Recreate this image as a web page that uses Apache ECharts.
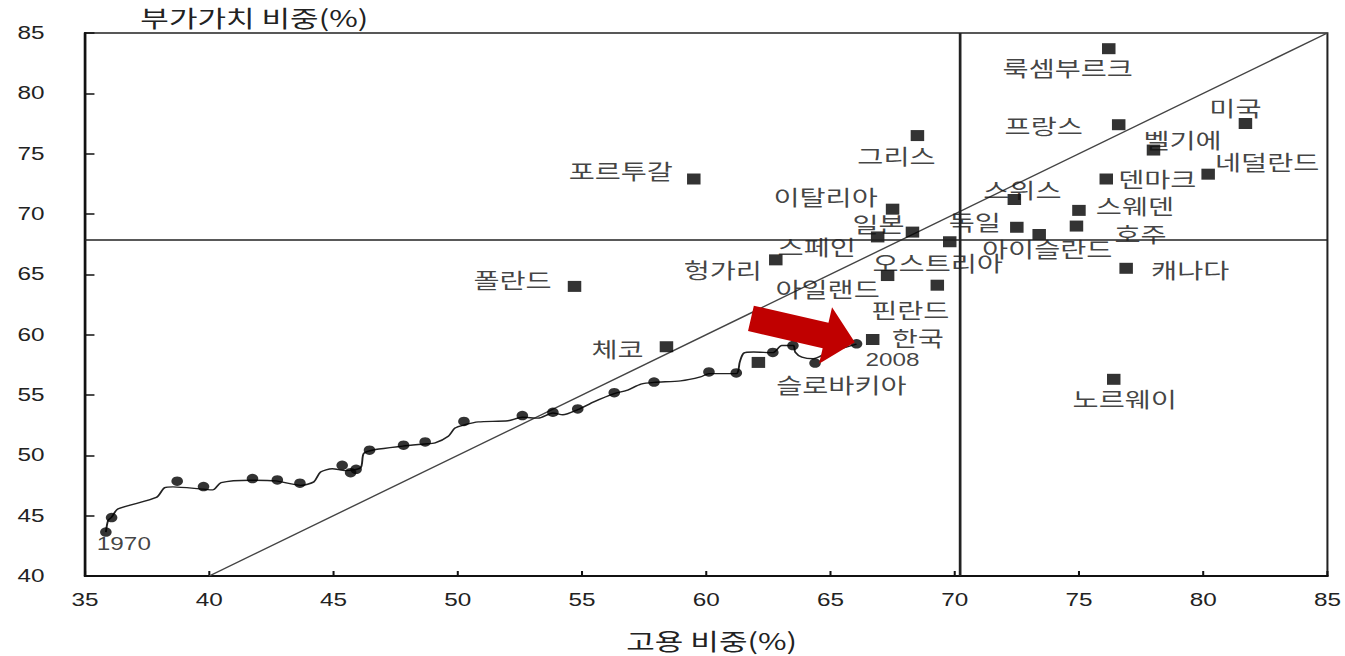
<!DOCTYPE html>
<html>
<head>
<meta charset="utf-8">
<script src="https://cdn.jsdelivr.net/npm/echarts@6/dist/echarts.min.js"></script>
<style>
html,body{margin:0;padding:0;background:#fff;overflow:hidden;}
#stage{width:1345px;height:656px;overflow:hidden;}
#chart{width:996px;height:656px;transform:scaleX(1.35040);transform-origin:0 0;}
</style>
</head>
<body>
<div id="stage"><div id="chart"></div></div>
<script>
// ---------------- data ----------------
const countries = ['룩셈부르크','프랑스','미국','벨기에','네덜란드','덴마크','스위스','스웨덴','독일','호주','아이슬란드','캐나다','노르웨이','그리스','포르투갈','이탈리아','일본','스페인','오스트리아','헝가리','아일랜드','핀란드','폴란드','체코','슬로바키아','한국'];
const employmentShare = [76.2,76.6,81.7,78.0,80.2,76.1,72.4,75.0,72.5,74.9,73.4,76.9,76.4,68.5,59.5,67.5,68.3,66.9,69.8,62.8,67.3,69.3,54.7,58.4,62.1,66.7];
const valueAddedShare = [83.7,77.4,77.5,75.3,73.3,72.9,71.2,70.3,68.9,69.0,68.3,65.5,56.3,76.5,72.9,70.4,68.5,68.1,67.7,66.2,64.9,64.1,64.0,59.0,57.7,59.6];

// Korea trajectory 1970 -> 2008 (dots)
const koreaYearLabels = ['1970','2008'];
const koreaDotEmp = [35.84,36.07,38.71,39.77,41.74,42.74,43.65,45.35,45.69,45.91,46.45,47.82,48.69,50.25,52.60,53.83,54.83,56.30,57.90,60.11,61.21,62.68,63.49,64.38,66.05];
const koreaDotVA  = [43.64,44.84,47.86,47.41,48.07,47.96,47.69,49.17,48.56,48.84,50.43,50.84,51.11,52.81,53.30,53.57,53.85,55.19,56.07,56.91,56.83,58.53,59.10,57.65,59.24];
// traced path of the connecting curve
const koreaPathEmp = [35.84,35.93,36.07,36.33,37.87,38.21,38.54,39.74,40.14,40.48,41.68,42.68,43.68,44.21,44.48,44.95,45.48,46.09,46.22,46.69,47.78,48.65,49.09,49.62,49.89,50.29,50.83,52.03,52.60,53.23,53.83,54.23,54.83,55.50,56.30,56.84,57.37,57.90,58.97,59.77,60.11,61.21,61.35,61.51,61.91,62.68,63.04,63.51,63.58,63.85,64.31,64.85,66.05];
const koreaPathVA  = [43.64,44.60,44.87,45.56,46.51,47.33,47.39,47.20,47.14,47.74,47.94,47.88,47.51,47.80,48.62,48.89,48.73,48.97,50.16,50.48,50.76,50.94,51.03,51.58,52.26,52.54,52.77,52.87,53.16,53.08,53.51,53.36,53.79,54.45,55.11,55.41,55.90,56.05,56.17,56.50,56.77,56.77,57.73,58.47,58.56,58.51,59.10,59.10,58.56,58.14,58.00,58.47,59.21];

// reference lines
const avgEmployment = 70.2;
const avgValueAdded = 67.9;
const diagonalLine = [[40,40],[85,85]];
// arrow annotation (data coords: tail -> tip)
const arrowTail = [61.8, 61.35];
const arrowTip = [65.98, 59.38];

// axis ticks
const xTicks = {min:35, max:85, interval:5};
const yTicks = {min:40, max:85, interval:5};

// ---------------- layout / style ----------------
const S = 1345/996; // horizontal stretch of the reference image
const labelOffsets = { // reference pixels, [dx, dy] from marker centre
  '룩셈부르크':[-41,18],'프랑스':[-75,0],'미국':[-10,-17],'벨기에':[29,-11],'네덜란드':[59,-13],
  '덴마크':[51,-1],'스위스':[8,-11],'스웨덴':[56,-6],'독일':[-42,-7],'호주':[64,7],
  '아이슬란드':[8,13],'캐나다':[64,0],'노르웨이':[11,18],'그리스':[-21,19],'포르투갈':[-73,-9],
  '이탈리아':[-67,-13],'일본':[-34,-9],'스페인':[-61,9],'오스트리아':[-12,20],'헝가리':[-53,9],
  '아일랜드':[-60,12],'핀란드':[-27,24],'폴란드':[-62,-8],'체코':[-49,1],'슬로바키아':[83,21],'한국':[45,-3]
};
const yearLabelOffsets = [[18,12],[36,16]];
const KR = "'Noto Sans CJK KR', 'Noto Sans', sans-serif";
const LAT = "'Liberation Sans', Arial, sans-serif";

const countryData = countries.map((n,i)=>({
  name:n,
  value:[employmentShare[i], valueAddedShare[i]],
  label:{offset:[labelOffsets[n][0]/S, labelOffsets[n][1]]}
}));
const dotData = koreaDotEmp.map((x,i)=>{
  const d = {value:[x, koreaDotVA[i]]};
  if(i===0) d.label = {show:true, formatter:koreaYearLabels[0], offset:[yearLabelOffsets[0][0]/S, yearLabelOffsets[0][1]]};
  if(i===koreaDotEmp.length-1) d.label = {show:true, formatter:koreaYearLabels[1], offset:[yearLabelOffsets[1][0]/S, yearLabelOffsets[1][1]]};
  return d;
});
const pathData = koreaPathEmp.map((x,i)=>[x, koreaPathVA[i]]);

const chart = echarts.init(document.getElementById('chart'), null, {renderer:'svg'});
const option = {
  animation:false,
  backgroundColor:'#fff',
  grid:{left:85/S, right:12/S, top:33, bottom:75, show:true, borderColor:'#222', borderWidth:1.5, backgroundColor:'transparent'},
  xAxis:{
    type:'value', min:xTicks.min, max:xTicks.max, interval:xTicks.interval,
    name:'고용 비중(%)', nameLocation:'middle', nameGap:52,
    nameTextStyle:{fontFamily:KR, fontSize:23, color:'#222', padding:[0,0,0,8]},
    axisLine:{show:true, onZero:false, lineStyle:{color:'#111', width:2}},
    axisTick:{show:true, inside:true, length:5, lineStyle:{color:'#111', width:1.5}},
    axisLabel:{fontFamily:LAT, fontSize:18, color:'#222', margin:15},
    splitLine:{show:false}
  },
  yAxis:{
    type:'value', min:yTicks.min, max:yTicks.max, interval:yTicks.interval,
    name:'부가가치 비중(%)', nameLocation:'end', nameGap:5,
    nameTextStyle:{fontFamily:KR, fontSize:23, color:'#222', align:'left', padding:[0,0,0,41]},
    axisLine:{show:true, onZero:false, lineStyle:{color:'#111', width:2}},
    axisTick:{show:true, inside:true, length:7, lineStyle:{color:'#111', width:1.5}},
    axisLabel:{fontFamily:LAT, fontSize:18, color:'#222', margin:30},
    splitLine:{show:false}
  },
  series:[
    {
      name:'diagonal', type:'line', data:diagonalLine, showSymbol:false, silent:true,
      lineStyle:{color:'#444', width:1.3}, z:1,
      markLine:{
        silent:true, symbol:['none','none'], label:{show:false},
        lineStyle:{color:'#222', type:'solid'},
        data:[
          {xAxis:avgEmployment, lineStyle:{width:2}},
          {yAxis:avgValueAdded, lineStyle:{width:1.5}}
        ]
      }
    },
    {
      name:'koreaPath', type:'line', data:pathData, showSymbol:false, smooth:0.25, silent:true,
      lineStyle:{color:'#222', width:1.4}, z:2
    },
    {
      name:'koreaDots', type:'scatter', data:dotData, symbol:'circle', symbolSize:[8.6,9.5],
      itemStyle:{color:'#000'}, z:3,
      label:{show:false, position:'inside', color:'#111', fontFamily:LAT, fontSize:18}
    },
    {
      name:'countries', type:'scatter', data:countryData, symbol:'rect', symbolSize:[10,11],
      itemStyle:{color:'#000'}, z:4,
      label:{show:true, position:'inside', formatter:'{b}', color:'#111', fontFamily:KR, fontSize:21}
    }
  ]
};
chart.setOption(option);

// red arrow annotation, built from data coordinates
(function(){
  const a = chart.convertToPixel({gridIndex:0}, arrowTail);
  const b = chart.convertToPixel({gridIndex:0}, arrowTip);
  const ax = a[0]*S, ay = a[1], bx = b[0]*S, by = b[1];
  const dx = bx-ax, dy = by-ay, L = Math.hypot(dx,dy);
  const ux = dx/L, uy = dy/L, px = -uy, py = ux;
  const shaftHalf = 13, headHalf = 29, headLen = 30;
  const hx = bx - ux*headLen, hy = by - uy*headLen;
  const pts = [
    [ax+px*shaftHalf, ay+py*shaftHalf],
    [hx+px*shaftHalf, hy+py*shaftHalf],
    [hx+px*headHalf, hy+py*headHalf],
    [bx, by],
    [hx-px*headHalf, hy-py*headHalf],
    [hx-px*shaftHalf, hy-py*shaftHalf],
    [ax-px*shaftHalf, ay-py*shaftHalf]
  ].map(p=>[p[0]/S, p[1]]);
  chart.setOption({graphic:[{type:'polygon', shape:{points:pts}, style:{fill:'#c00000'}, z:100, silent:true}]});
})();
</script>
</body>
</html>
